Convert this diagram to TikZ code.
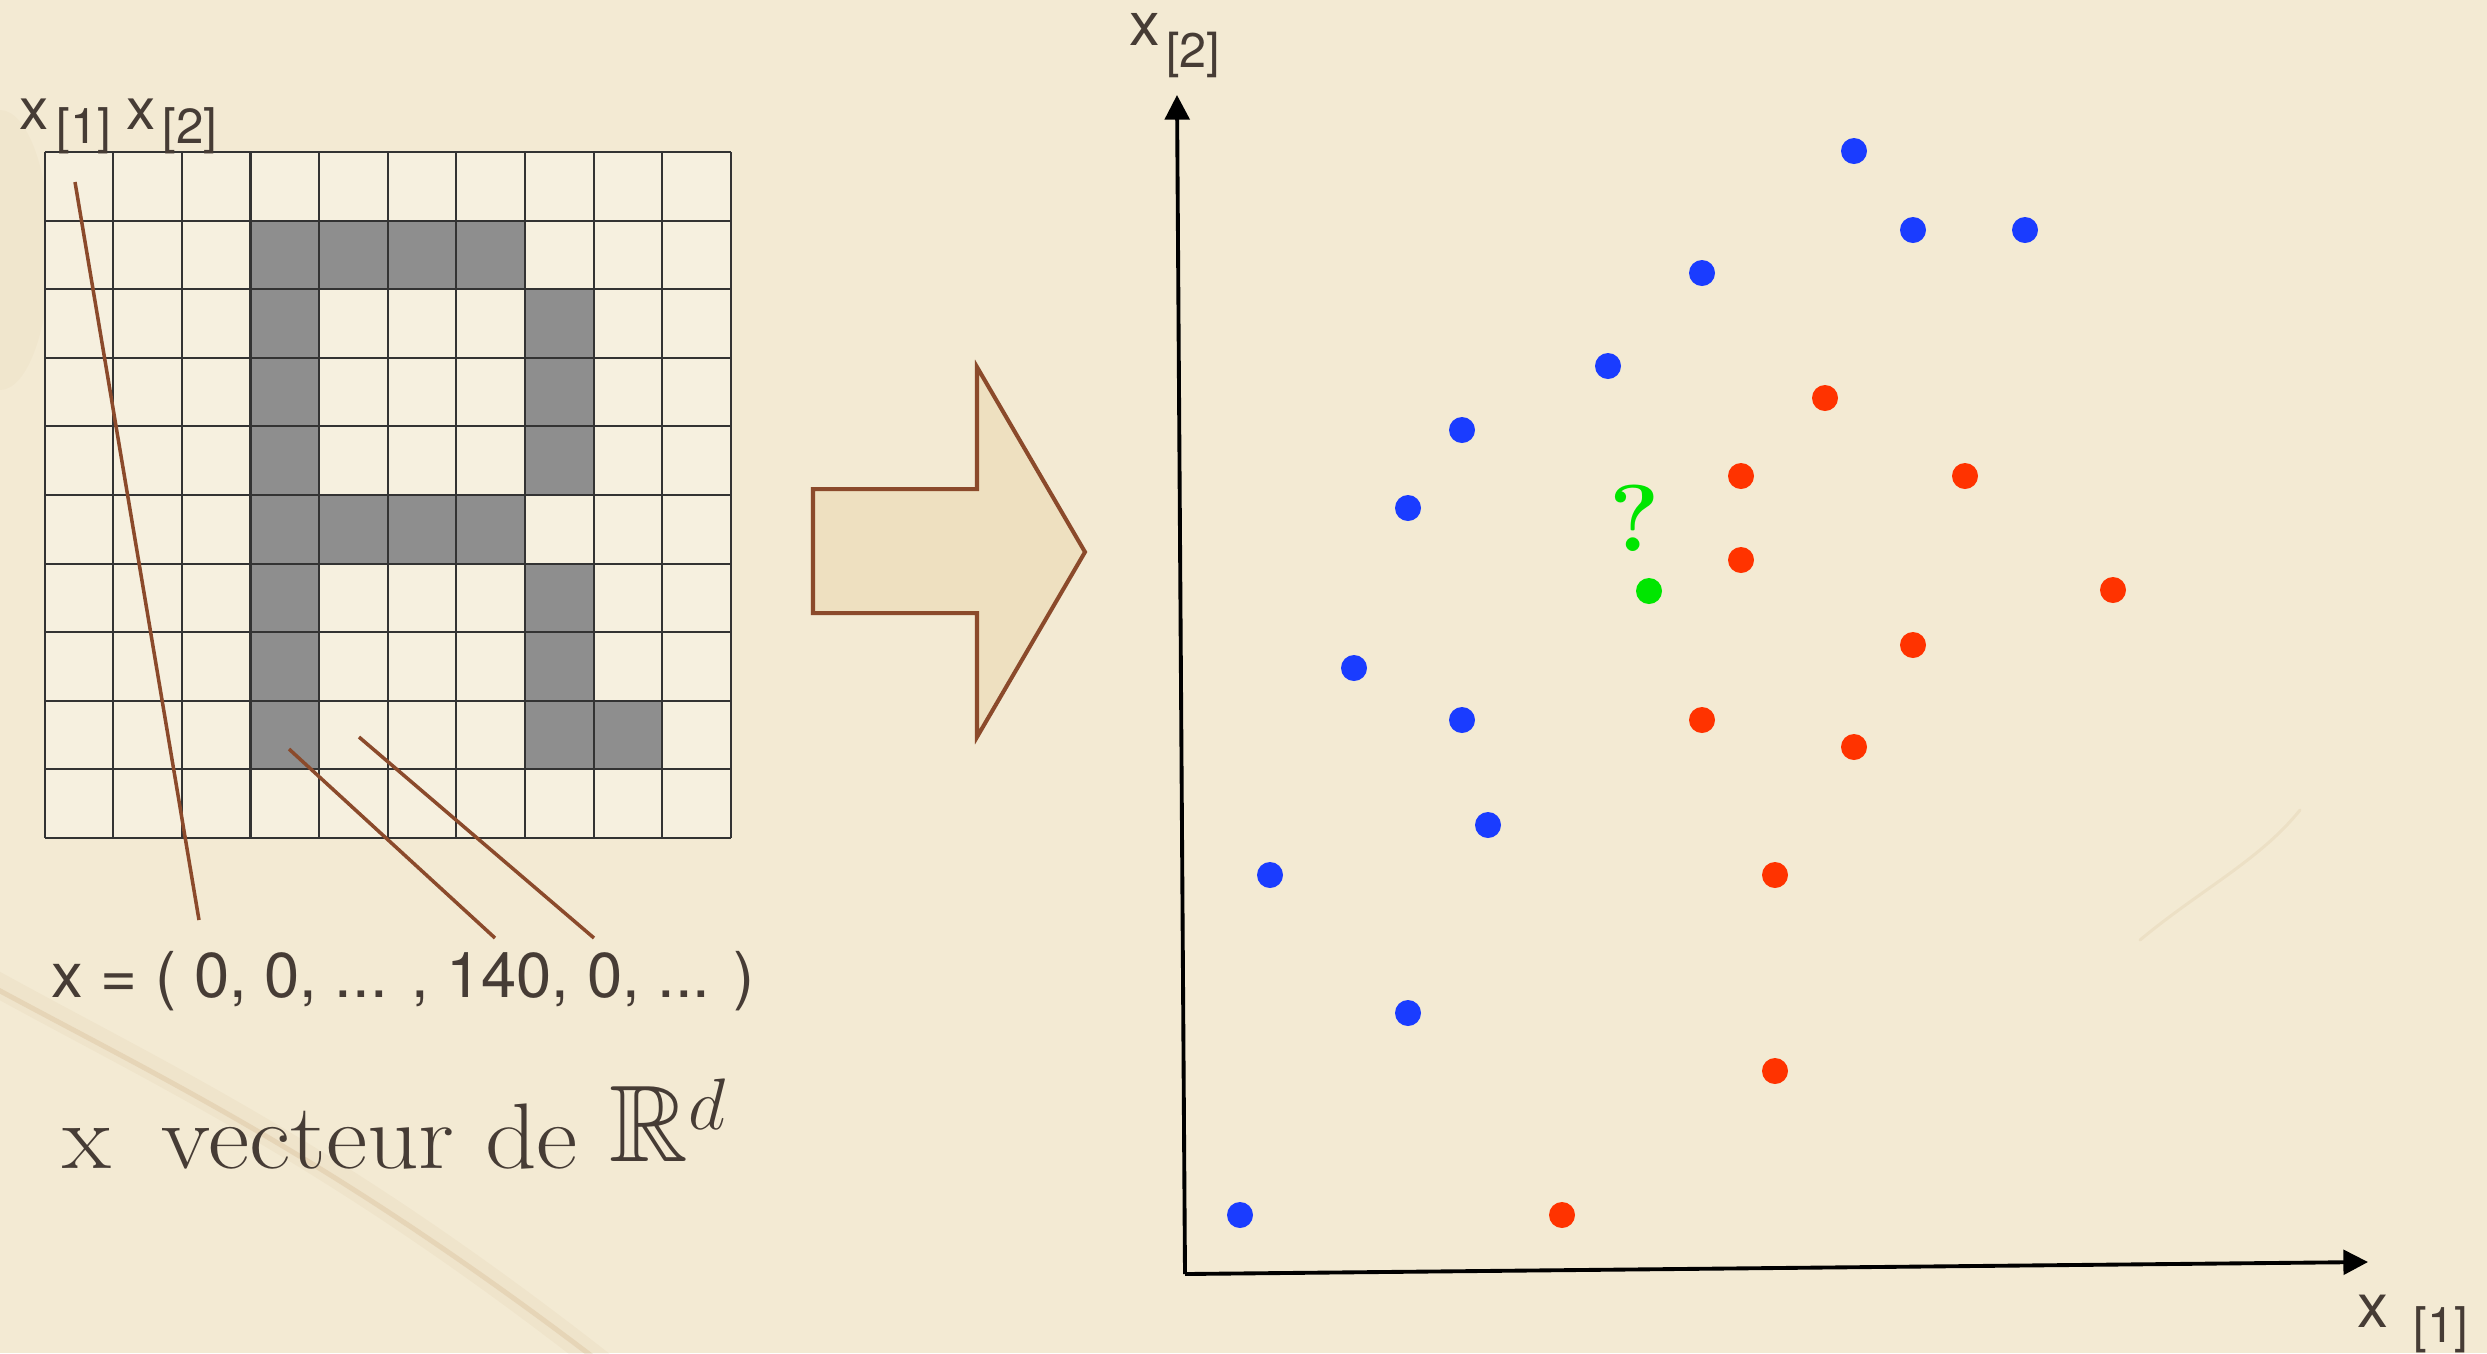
\documentclass[tikz,border=0pt]{standalone}
\usepackage{amssymb}
\usepackage{graphicx}
\usepackage{fontspec}
\newfontfamily\helv{TeX Gyre Heros}
\usetikzlibrary{arrows.meta}
\definecolor{paper}{HTML}{F3EAD3}
\definecolor{gridpaper}{HTML}{F6F0DF}
\definecolor{ink}{HTML}{463C35}
\definecolor{sienna}{HTML}{8B4A2B}
\definecolor{cellgray}{HTML}{8E8E8E}
\definecolor{arrowfill}{HTML}{EEE0C0}
\definecolor{dotblue}{HTML}{1A3CFF}
\definecolor{dotred}{HTML}{FF3300}
\definecolor{dotgreen}{HTML}{00E600}
\definecolor{stain}{HTML}{B8894F}
\tikzset{
  gridline/.style={draw=black!80, line width=0.6pt},
  cellfill/.style={fill=cellgray},
  pointer/.style={draw=sienna, line width=1pt},
  axisline/.style={draw=black, line width=1.1pt, -{Triangle[length=7pt,width=7pt]}},
  dotbase/.style={circle, minimum size=0.26cm, inner sep=0pt, draw=none},
  bluedot/.style={dotbase, fill=dotblue},
  reddot/.style={dotbase, fill=dotred},
  greendot/.style={dotbase, fill=dotgreen},
  sanslabel/.style={anchor=base west, inner sep=0pt, text=ink, font=\helv},
  serifword/.style={anchor=base west, inner sep=0pt, text=ink, font=\fontsize{26.5}{31}\selectfont\addfontfeature{FakeBold=1.2}},
}
\begin{document}
\begin{tikzpicture}[x=0.01cm, y=-0.01cm]
% background
\fill[paper] (0,0) rectangle (2487,1353);
\useasboundingbox (0,0) rectangle (2487,1353);
% stains
\draw[stain, line width=0.25cm, opacity=0.06, line cap=round] (-20,975) .. controls (160,1075) and (330,1150) .. (610,1370);
\draw[stain, line width=0.05cm, opacity=0.16, line cap=round] (-20,980) .. controls (160,1078) and (330,1155) .. (610,1370);
\fill[stain, opacity=0.04] (0,250) ellipse (50 and 140);
\draw[stain, line width=0.03cm, opacity=0.10, line cap=round] (2140,940) .. controls (2200,890) and (2260,860) .. (2300,810);

% pixel grid
\fill[gridpaper] (44.6,152) rectangle (731,838);
\foreach \c/\r in {3/1,4/1,5/1,6/1,3/2,7/2,3/3,7/3,3/4,7/4,3/5,4/5,5/5,6/5,3/6,7/6,3/7,7/7,3/8,7/8,8/8}
  \fill[cellfill] ({44.6+\c*68.64},{152+\r*68.6}) rectangle ++(68.64,68.6);
\foreach \i in {0,...,10} {
  \draw[gridline] ({44.6+\i*68.64},152) -- ({44.6+\i*68.64},838);
  \draw[gridline] (44.6,{152+\i*68.6}) -- (731,{152+\i*68.6});
}

% labels above grid
\node[sanslabel] (lx1) at (19,129) {\fontsize{16.6}{19}\selectfont x\hspace{0.08cm}\raisebox{-0.14cm}{\fontsize{14}{16}\selectfont [1]}};
\node[sanslabel] (lx2) at (126,129) {\fontsize{16.6}{19}\selectfont x\hspace{0.07cm}\raisebox{-0.14cm}{\fontsize{14}{16}\selectfont [2]}};

% vector text
\node[sanslabel, font=\helv\fontsize{18}{21}\selectfont] (vec) at (51,997) {x = ( 0, 0, ... , 140, 0, ... )};

% pointer lines
\coordinate (p1a) at (75,182);  \coordinate (p1b) at (199,920);
\coordinate (p2a) at (289,749); \coordinate (p2b) at (495,938);
\coordinate (p3a) at (359,737); \coordinate (p3b) at (594,938);
\draw[pointer] (p1a) -- (p1b);
\draw[pointer] (p2a) -- (p2b);
\draw[pointer] (p3a) -- (p3b);

% caption
\node[serifword] (cx) at (62,1168) {\scalebox{1.08}[1]{x}};
\node[serifword] (cv) at (161,1168) {\scalebox{1.085}[1]{vecteur de}};
\node[anchor=base west, inner sep=0pt, text=ink, font=\fontsize{31}{37}\selectfont] (cR) at (609,1161) {$\mathbb{R}^{d}$};

% block arrow
\draw[draw=sienna, line width=1.15pt, fill=arrowfill, line join=miter]
  (813,489) -- (977,489) -- (977,367) -- (1085,552) -- (977,737) -- (977,613) -- (813,613) -- cycle;

% axes
\coordinate (O) at (1185,1274);
\coordinate (ytop) at (1177,95);
\coordinate (xend) at (2368,1262);
\draw[axisline] (O) -- (ytop);
\draw[axisline] (O) -- (xend);
\node[sanslabel] (ly) at (1129,45) {\fontsize{17.4}{20}\selectfont x\hspace{0.06cm}\raisebox{-0.22cm}{\fontsize{13.8}{16}\selectfont [2]}};
\node[sanslabel] (lx) at (2357,1327) {\fontsize{17.6}{20}\selectfont x\hspace{0.25cm}\raisebox{-0.15cm}{\fontsize{14}{16}\selectfont [1]}};

% blue points
\node[bluedot] (b1) at (1854,151) {};
\node[bluedot] (b2) at (1913,230) {};
\node[bluedot] (b3) at (2025,230) {};
\node[bluedot] (b4) at (1702,273) {};
\node[bluedot] (b5) at (1608,366) {};
\node[bluedot] (b6) at (1462,430) {};
\node[bluedot] (b7) at (1408,508) {};
\node[bluedot] (b8) at (1354,668) {};
\node[bluedot] (b9) at (1462,720) {};
\node[bluedot] (b10) at (1488,825) {};
\node[bluedot] (b11) at (1270,875) {};
\node[bluedot] (b12) at (1408,1013) {};
\node[bluedot] (b13) at (1240,1215) {};
% red points
\node[reddot] (r1) at (1825,398) {};
\node[reddot] (r2) at (1741,476) {};
\node[reddot] (r3) at (1965,476) {};
\node[reddot] (r4) at (1741,560) {};
\node[reddot] (r5) at (2113,590) {};
\node[reddot] (r6) at (1913,645) {};
\node[reddot] (r7) at (1702,720) {};
\node[reddot] (r8) at (1854,747) {};
\node[reddot] (r9) at (1775,875) {};
\node[reddot] (r10) at (1775,1071) {};
\node[reddot] (r11) at (1562,1215) {};
% query point
\node[greendot] (g) at (1649,591) {};
\node[inner sep=0pt, text=dotgreen, font=\fontsize{27}{32}\selectfont\bfseries] (q) at (1635,518) {?};
\end{tikzpicture}
\end{document}
